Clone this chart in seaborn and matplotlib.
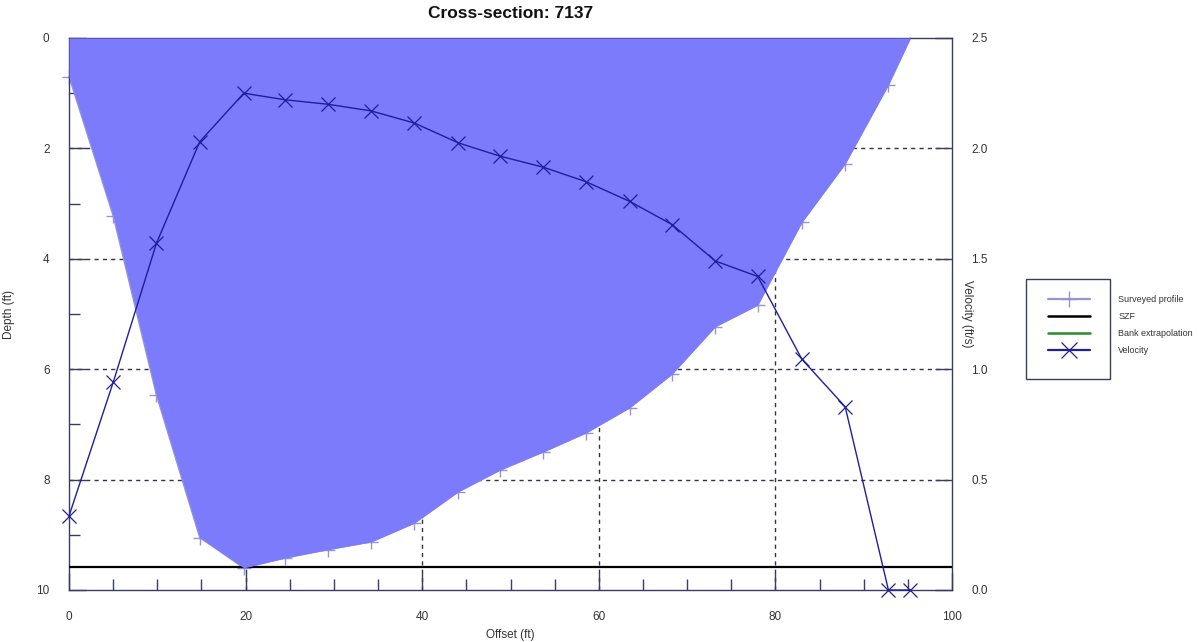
import matplotlib
matplotlib.use("Agg")
import matplotlib.pyplot as plt
import numpy as np
import pandas as pd
import seaborn as sns
from matplotlib.lines import Line2D
from matplotlib.patches import Rectangle
from matplotlib.ticker import MultipleLocator

# ---- data ----
offsets = [0, 5, 9.9, 14.8, 19.8, 24.5, 29.3, 34.2, 39.1, 44.1, 48.8,
           53.7, 58.5, 63.5, 68.3, 73.2, 78.0, 83.0, 87.9, 92.8, 95.3]
depths = [0.7, 3.22, 6.47, 9.05, 9.6, 9.42, 9.27, 9.13, 8.79, 8.22, 7.83,
          7.5, 7.16, 6.7, 6.09, 5.23, 4.84, 3.34, 2.28, 0.85, 0.0]
velocities = [0.335, 0.94, 1.57, 2.03, 2.25, 2.22, 2.2, 2.17, 2.115, 2.025, 1.965,
              1.915, 1.85, 1.76, 1.655, 1.49, 1.42, 1.045, 0.83, 0.0, 0.0]
szf_depth = 9.58
title = "Cross-section: 7137"
legend_labels = ["Surveyed profile", "SZF", "Bank extrapolation", "Velocity"]

# ---- style ----
FILL = "#7b7bfb"
PROFILE = "#9595d2"
VEL = "#1f1f9c"
GREEN = "#2a8a2a"
SPINE = "#3a3a66"
TXT = "#333333"

sns.set_style("ticks")
plt.rcParams["font.family"] = ["Liberation Sans", "DejaVu Sans"]

W, H = 1199, 642
fig = plt.figure(figsize=(W / 100, H / 100), dpi=100)
ax = fig.add_axes([69 / W, 1 - 590 / H, 883 / W, 552 / H])

df = pd.DataFrame({"offset": offsets, "depth": depths, "velocity": velocities})

# surveyed profile (markers mostly hidden beneath the water fill)
sns.lineplot(data=df, x="offset", y="depth", ax=ax, color=PROFILE, marker="+",
             markersize=10, markeredgewidth=1.0, markeredgecolor=PROFILE,
             markevery=list(range(len(offsets) - 1)),
             linewidth=1, estimator=None, sort=False, zorder=2, clip_on=False,
             legend=False)
ax.fill_between(df["offset"], 0, df["depth"], color=FILL, linewidth=0, zorder=3)
ax.axhline(szf_depth, color="black", linewidth=1.6, zorder=2.6)

ax.set_xlim(0, 100)
ax.set_ylim(10, 0)
ax.set_axisbelow(True)
ax.xaxis.set_major_locator(MultipleLocator(20))
ax.xaxis.set_minor_locator(MultipleLocator(5))
ax.yaxis.set_major_locator(MultipleLocator(2))
ax.yaxis.set_minor_locator(MultipleLocator(1))
ax.grid(True, which="major", linestyle=(0, (3, 3)), color="#333344", linewidth=1)
ax.tick_params(which="major", direction="in", length=12, width=1, color=SPINE,
               labelsize=8.5, labelcolor=TXT, top=False, right=False)
ax.tick_params(which="minor", direction="in", length=8, width=1, color=SPINE,
               top=False, right=False)
ax.tick_params(axis="x", which="major", pad=15)
ax.tick_params(axis="y", which="major", pad=14)
for s in ax.spines.values():
    s.set_color(SPINE)
    s.set_linewidth(1)
    s.set_zorder(2.5)
ax.set_xlabel("Offset (ft)", fontsize=8.5, color=TXT)
ax.set_ylabel("Depth (ft)", fontsize=8.5, color=TXT)
ax.xaxis.set_label_coords(0.5, -0.07)
ax.yaxis.set_label_coords(-0.061, 0.5)

# velocity on secondary axis
ax2 = ax.twinx()
sns.lineplot(data=df, x="offset", y="velocity", ax=ax2, color=VEL, marker="x",
             markersize=9.5, markeredgewidth=0.9, markeredgecolor=VEL,
             linewidth=1, estimator=None, sort=False, clip_on=False, legend=False)
ax2.set_ylim(0, 2.5)
ax2.yaxis.set_major_locator(MultipleLocator(0.5))
ax2.yaxis.set_major_formatter(matplotlib.ticker.FormatStrFormatter("%.1f"))
ax2.tick_params(which="major", direction="in", length=12, width=1, color=SPINE,
                labelsize=8.5, labelcolor=TXT, pad=14)
for s in ax2.spines.values():
    s.set_visible(False)
ax2.set_ylabel("Velocity (ft/s)", fontsize=8.5, color=TXT, rotation=270)
ax2.yaxis.set_label_coords(1.0238, 0.5)

# hide grid lines that would sit on the frame edges
fig.canvas.draw()
for axis, lims in ((ax.xaxis, (0, 100)), (ax.yaxis, (0, 10))):
    for tick in axis.get_major_ticks():
        loc = tick.get_loc()
        if loc is not None and min(abs(loc - lims[0]), abs(loc - lims[1])) < 1e-9:
            tick.gridline.set_visible(False)

# title
fig.text(511 / W, 1 - 14 / H, title, ha="center", va="center",
         fontsize=12.5, fontweight="bold", color="#111111")

# legend: handles inside a frame, labels to the right of it
handles = [
    Line2D([], [], color=PROFILE, marker="+", markersize=11, linewidth=1.6),
    Line2D([], [], color="black", linewidth=1.8),
    Line2D([], [], color=GREEN, linewidth=1.8),
    Line2D([], [], color=VEL, marker="x", markersize=11, markeredgewidth=0.9, linewidth=1.6),
]
leg = fig.legend(handles, legend_labels, loc="upper left",
                 bbox_to_anchor=(1048 / W, 1 - 295 / H), frameon=False,
                 fontsize=6.5, handlelength=4.7, handletextpad=3.1,
                 labelspacing=0.9, borderpad=0, borderaxespad=0)
for t in leg.get_texts():
    t.set_color(TXT)
fig.patches.append(Rectangle((1026 / W, 1 - 379 / H), 84 / W, 100 / H,
                             transform=fig.transFigure, fill=False,
                             edgecolor=SPINE, linewidth=1))

fig.savefig("out.png", dpi=100)
